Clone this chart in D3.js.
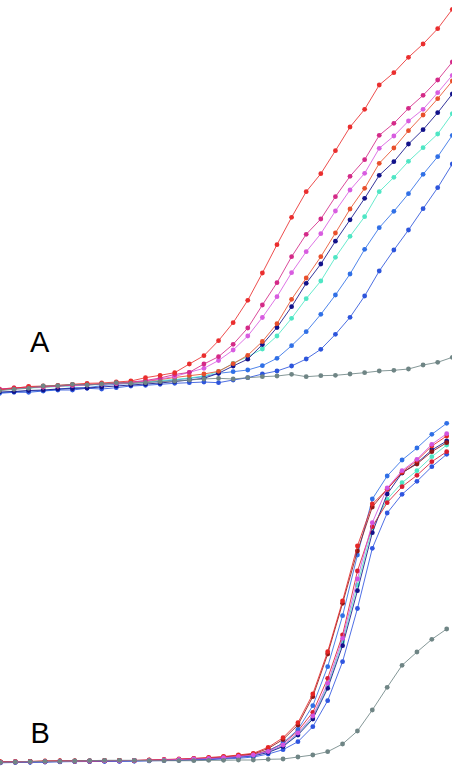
<!DOCTYPE html>
<html>
<head>
<meta charset="utf-8">
<script src="https://cdn.jsdelivr.net/npm/d3@7"></script>
<style>
  html, body { margin: 0; padding: 0; background: #fff; }
  svg { display: block; }
</style>
</head>
<body>
<svg id="chart" width="452" height="774"></svg>
<script>
// ---- Panel A: amplification curves (32 cycles) ----
const cyclesA = d3.range(1, 33);
const panelALabel = "A";
const a_red = [5, 6.7, 8.5, 9, 9.7, 10.7, 11.7, 12, 13, 14, 17.3, 19.7, 22.3, 31, 39.3, 54.3, 72.3, 94.7, 122, 150.3, 177.7, 203.3, 221.3, 244.3, 268, 285.7, 310, 322.3, 337.7, 351, 366.3, 385.7];
const a_magenta = [6, 7, 8, 8.5, 9, 10, 10.5, 11, 12, 13, 14.5, 17, 20.5, 22.7, 31, 38.3, 50.7, 67, 90, 112.3, 138.3, 160.7, 176, 198.3, 218.7, 235.3, 259.7, 271.7, 286.7, 299.7, 315, 333];
const a_orchid = [5.5, 6.5, 7.5, 8, 9, 9.5, 10, 11, 11.5, 12.5, 14, 16, 18.5, 22.7, 26.7, 34.5, 45, 59, 77.5, 98.3, 122.3, 143.3, 161.3, 184, 205, 221.7, 246.7, 259, 274, 285.7, 302.3, 319.7];
const a_orange = [6, 7, 7.5, 8, 9, 10, 10.5, 11, 11.5, 12.5, 13.5, 15.5, 17.5, 19.3, 21, 23.7, 31.3, 39.7, 53.5, 71.3, 95.7, 117, 138.3, 162, 186, 206.7, 231.7, 247, 264.3, 280, 296.3, 314];
const a_navy = [3, 3.5, 4.5, 5, 6, 6.5, 7, 8, 9, 10, 11, 12, 13.5, 15, 16.7, 21.7, 29, 35.8, 50.5, 67.5, 88.3, 111.7, 131, 153.8, 175.2, 196.7, 219.7, 233.3, 251, 265.3, 282.3, 301];
const a_aqua = [5, 6, 7, 7.5, 8.5, 9, 10, 10.5, 11.5, 12, 13, 14.5, 15.5, 17, 19, 23.5, 31.7, 38.3, 46, 59, 76.7, 96.3, 114, 137.7, 158.7, 178.3, 203.3, 217.7, 233.7, 247.3, 261, 281.3];
const a_blue = [2.3, 3.3, 4, 4.3, 5.7, 7.3, 7.3, 9.3, 10.7, 11.7, 12.7, 13.7, 15, 16.7, 18.3, 21.7, 23.3, 25, 29.3, 36.7, 49.3, 63.3, 80.7, 100, 121, 145.7, 167.3, 183.7, 201.3, 220.7, 238.3, 259.7];
const a_blue2 = [1.7, 2.7, 2.7, 4, 5, 5, 6.7, 6, 7.3, 9, 9.7, 10.7, 11.7, 12.3, 13, 12.3, 15, 17.3, 21, 24, 29, 36, 45.7, 60.7, 77.7, 99, 124, 145, 165, 186.3, 207.3, 231];
const a_gray = [4.3, 5.7, 6.7, 9, 9.3, 10.7, 10, 11, 12.3, 11.7, 12.3, 13.3, 14, 15, 16, 16.7, 16, 17.3, 18.3, 19, 20.7, 18.3, 19.3, 19.7, 21, 22.3, 24, 24.7, 26, 30, 32.7, 37.7];

// ---- Panel B: amplification curves (31 cycles) ----
const cyclesB = d3.range(1, 32);
const panelBLabel = "B";
const b_gray = [2.7, 3, 3.3, 3.7, 3.7, 4, 4.3, 4.7, 4.7, 4.7, 4.3, 4.3, 4.3, 4.3, 4.7, 4.7, 5, 5, 5.7, 6, 8, 10, 13.3, 21, 34, 55, 77.7, 99.7, 113, 125.7, 136];
const b_blueLow = [2.2, 2.5, 2.7, 3, 3.2, 3.4, 3.5, 3.7, 3.8, 4, 4.2, 4.4, 4.7, 5, 5.3, 6, 6.7, 8, 11, 15.3, 23.3, 38.3, 64.3, 103.3, 156.5, 216.7, 252, 270.7, 283.7, 298.3, 310.7];
const b_aqua = [2.7, 3, 3.2, 3.5, 3.7, 3.8, 4, 4.2, 4.3, 4.4, 4.6, 4.9, 5.3, 5.7, 6.2, 7, 8, 9.5, 13, 19, 31, 47.5, 79, 123, 180, 237, 265.7, 282.3, 294.3, 308.3, 320];
const b_navy = [2.5, 2.8, 3, 3.2, 3.5, 3.7, 3.8, 4, 4, 4.2, 4.4, 4.7, 5, 5.5, 6, 6.8, 7.8, 9.2, 12.5, 18.5, 30, 46, 76.7, 119.3, 174.3, 232.3, 271, 292, 302, 315, 324];
const b_crimson = [3, 3.2, 3.5, 3.7, 4, 4, 4.2, 4.3, 4.5, 4.5, 4.8, 5, 5.5, 6, 6.7, 7.5, 8.7, 10.5, 14.5, 21.5, 34, 52.7, 86.7, 130, 194, 238.3, 262.3, 278.3, 289.7, 303.3, 313.3];
const b_orchid = [2.7, 3, 3.2, 3.5, 3.7, 3.8, 4, 4.2, 4.2, 4.5, 4.7, 5, 5.5, 6, 6.5, 7.3, 8.5, 10, 13.5, 20, 32, 49, 81.7, 126.7, 186, 242.3, 277, 294.3, 305.7, 320.7, 331.3];
const b_blueTop = [2.5, 3, 3, 3.3, 3.5, 3.7, 3.8, 4, 4, 4.2, 4.5, 4.8, 5, 5.5, 6, 7, 8, 9.5, 14, 22, 35.5, 59.3, 98.3, 149.3, 210, 266, 289, 305, 317, 330.7, 341.7];
const b_maroon = [3, 3.2, 3.5, 3.8, 4, 4, 4.2, 4.3, 4.5, 4.5, 4.8, 5.2, 5.7, 6.3, 7, 8, 9.5, 11, 16.5, 25.5, 40, 68.3, 111, 161.7, 214, 258, 276, 292.3, 301, 313.3, 322.3];
const b_red = [3, 3.5, 3.5, 4, 4, 4, 4, 4.5, 4.5, 4.5, 5, 5.5, 6, 6.7, 7.5, 8.5, 10, 11.7, 17.7, 27.3, 42.3, 71, 113.3, 164, 219, 261, 275.7, 293, 304.5, 319, 329];

// colours (style, not data)
const seriesA = [
  { v: a_blue2, c: "#2d55dc" },
  { v: a_blue, c: "#3070e6" },
  { v: a_aqua, c: "#4ee6c4" },
  { v: a_navy, c: "#12128a" },
  { v: a_orange, c: "#e8502c" },
  { v: a_orchid, c: "#d85ce0" },
  { v: a_magenta, c: "#d42a88" },
  { v: a_red, c: "#ea2e2e" },
  { v: a_gray, c: "#6f8585" }
];
const seriesB = [
  { v: b_blueLow, c: "#2f55e0" },
  { v: b_aqua, c: "#4ee6c4" },
  { v: b_navy, c: "#12128a" },
  { v: b_crimson, c: "#d81e32" },
  { v: b_blueTop, c: "#2f6fe6" },
  { v: b_maroon, c: "#8e1616" },
  { v: b_red, c: "#e52626" },
  { v: b_orchid, c: "#d254e0" },
  { v: b_gray, c: "#6f8585" }
];

const svg = d3.select("#chart");

const xA = d3.scaleLinear().domain([1, 32]).range([-0.6, 452.3]);
const yA = d3.scaleLinear().domain([0, 400]).range([395, -5]);
const xB = d3.scaleLinear().domain([1, 31]).range([0.4, 446.7]);
const yB = d3.scaleLinear().domain([0, 350]).range([765, 415]);

function drawPanel(g, series, cycles, x, y) {
  const line = d3.line().x((d, i) => x(cycles[i])).y(d => y(d));
  series.forEach(s => {
    const sg = g.append("g");
    sg.append("path")
      .attr("d", line(s.v))
      .attr("fill", "none")
      .attr("stroke", s.c)
      .attr("stroke-opacity", 0.85)
      .attr("stroke-width", 1);
    sg.selectAll("circle")
      .data(s.v)
      .join("circle")
      .attr("cx", (d, i) => x(cycles[i]))
      .attr("cy", d => y(d))
      .attr("r", 2.4)
      .attr("fill", s.c);
  });
}

drawPanel(svg.append("g"), seriesA, cyclesA, xA, yA);
drawPanel(svg.append("g"), seriesB, cyclesB, xB, yB);

svg.append("text")
  .attr("x", 30)
  .attr("y", 352)
  .attr("font-family", "'Liberation Sans', Arial, sans-serif")
  .attr("font-size", 29)
  .attr("fill", "#000")
  .text(panelALabel);
svg.append("text")
  .attr("x", 30.5)
  .attr("y", 742.5)
  .attr("font-family", "'Liberation Sans', Arial, sans-serif")
  .attr("font-size", 29)
  .attr("fill", "#000")
  .text(panelBLabel);
</script>
</body>
</html>
